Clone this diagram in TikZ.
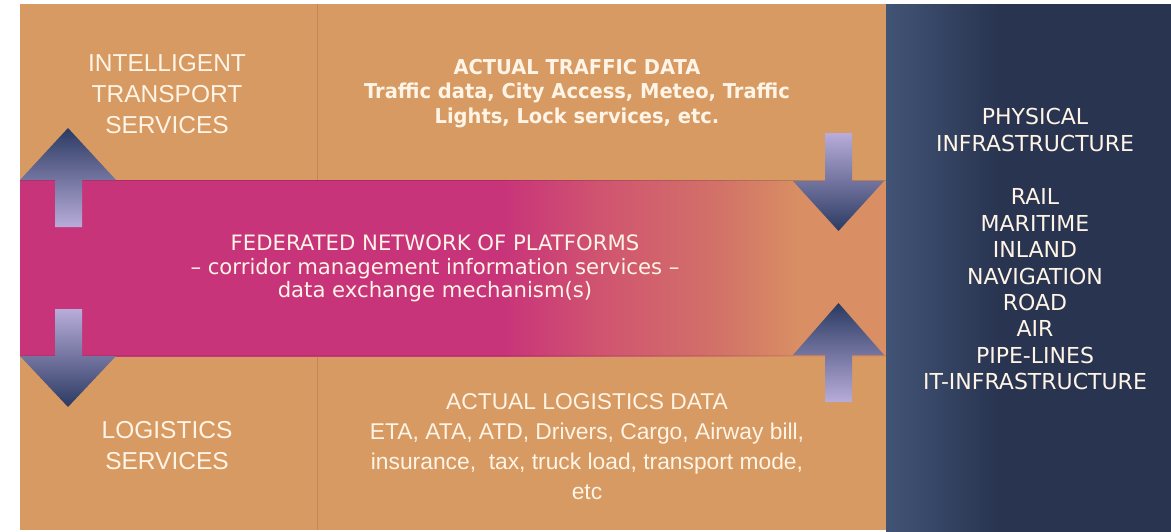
\documentclass[tikz,border=0pt]{standalone}
\usepackage{fontspec}
\setmainfont{Liberation Sans}
\newfontfamily\luc{DejaVu Sans}
\newfontfamily\lucb[FakeStretch=0.95]{DejaVu Sans}
\definecolor{cTan}{RGB}{214,154,98}
\definecolor{cDiv}{RGB}{192,136,86}
\definecolor{cMag}{RGB}{200,52,122}
\definecolor{cMagB}{RGB}{208,84,112}
\definecolor{cSal}{RGB}{210,114,104}
\definecolor{cBandEnd}{RGB}{217,143,99}
\definecolor{cNavy}{RGB}{40,52,80}
\definecolor{cNavyL}{RGB}{66,84,118}
\definecolor{cTxt}{RGB}{255,244,230}
\definecolor{cArD}{RGB}{42,58,98}
\definecolor{cArL}{RGB}{184,172,218}
\pgfdeclarehorizontalshading{bandsh}{100bp}{color(0bp)=(cMag); color(25bp)=(cMag); color(52.9bp)=(cMag); color(58.5bp)=(cMagB); color(65.4bp)=(cSal); color(70bp)=(cBandEnd); color(75bp)=(cBandEnd); color(100bp)=(cBandEnd)}
\pgfdeclarehorizontalshading{navysh}{100bp}{color(0bp)=(cNavyL); color(25bp)=(cNavyL); color(45bp)=(cNavy); color(75bp)=(cNavy); color(100bp)=(cNavy)}
\tikzset{
  txt/.style={text=cTxt, align=center, inner sep=0pt},
  itsfont/.style={font=\fontsize{24.5}{31}\selectfont},
  logfont/.style={font=\fontsize{22.8}{30}\selectfont},
  trafont/.style={font=\lucb\bfseries\fontsize{20.5}{24.5}\selectfont},
  fedfont/.style={font=\luc\fontsize{21.2}{23.7}\selectfont},
  infont/.style={font=\luc\fontsize{22}{26.4}\selectfont},
  uparrow/.style={top color=cArD, bottom color=cArL},
  downarrow/.style={top color=cArL, bottom color=cArD},
  divider/.style={draw=cDiv, line width=1pt},
  bandedge/.style={draw=black, draw opacity=0.14, line width=1.2pt}
}
\begin{document}
\begin{tikzpicture}[x=1pt,y=-1pt]
\useasboundingbox (0,0) rectangle (1171,531);
\fill[white] (0,0) rectangle (1171,531);
% tan background
\fill[cTan] (20,4) rectangle (886,530);
% dividers
\coordinate (d1a) at (317,4); \coordinate (d1b) at (317,180);
\coordinate (d2a) at (317,356); \coordinate (d2b) at (317,530);
\draw[divider] (d1a) -- (d1b);
\draw[divider] (d2a) -- (d2b);
% band
\shade[shading=bandsh] (20,180) rectangle (886,356);
\coordinate (bt1) at (20,180.5); \coordinate (bt2) at (886,180.5);
\coordinate (bb1) at (20,355.5); \coordinate (bb2) at (886,355.5);
\draw[bandedge] (bt1) -- (bt2);
\draw[bandedge, draw opacity=0.08] (bb1) -- (bb2);
% navy panel
\shade[shading=navysh] (886,4) rectangle (1171,531);
% arrows
\shade[uparrow] (20,180) -- (68,128) -- (116,180) -- (82,180) -- (82,227) -- (55,227) -- (55,180) -- cycle;
\shade[downarrow] (55,309) -- (82,309) -- (82,356) -- (116,356) -- (68,407) -- (20,356) -- (55,356) -- cycle;
\shade[downarrow] (825,133) -- (852,133) -- (852,181) -- (884,181) -- (838.5,231) -- (793,181) -- (825,181) -- cycle;
\shade[uparrow] (793,355) -- (838.5,303) -- (884,355) -- (852,355) -- (852,402) -- (825,402) -- (825,355) -- cycle;
% texts
\node[txt, itsfont] (its) at (167,94) {INTELLIGENT\\TRANSPORT\\SERVICES};
\node[txt, itsfont] (logs) at (167,446) {LOGISTICS\\SERVICES};
\node[txt, trafont] (traffic) at (577,93.5) {ACTUAL TRAFFIC DATA\\Traffic data, City Access, Meteo, Traffic\\Lights, Lock services, etc.};
\node[txt, fedfont] (fed) at (435,268.5) {FEDERATED NETWORK OF PLATFORMS\\– corridor management information services –\\data exchange mechanism(s)};
\node[txt, logfont] (logdata) at (587,447) {ACTUAL LOGISTICS DATA\\ETA, ATA, ATD, Drivers, Cargo, Airway bill,\\insurance,\ \ tax, truck load, transport mode,\\etc};
\node[txt, infont] (phys) at (1035,130) {PHYSICAL\\INFRASTRUCTURE};
\node[txt, infont] (modes) at (1035,289.5) {RAIL\\MARITIME\\INLAND\\NAVIGATION\\ROAD\\AIR\\PIPE-LINES\\IT-INFRASTRUCTURE};
\end{tikzpicture}
\end{document}
